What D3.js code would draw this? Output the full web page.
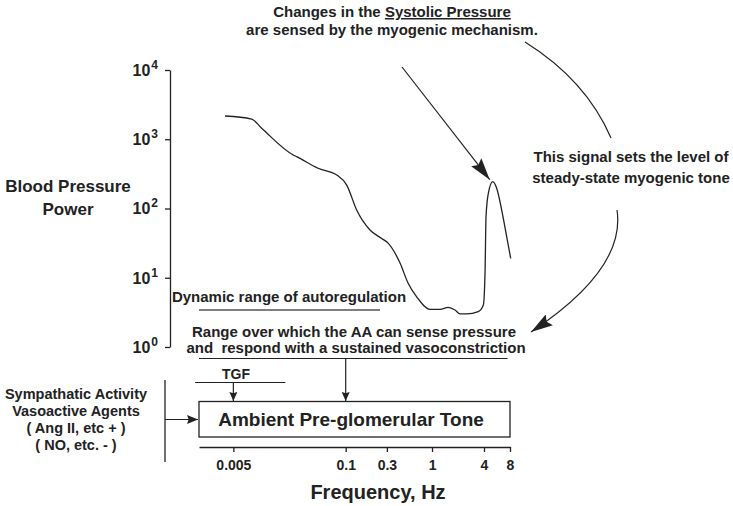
<!DOCTYPE html>
<html>
<head>
<meta charset="utf-8">
<script src="https://cdn.jsdelivr.net/npm/d3@7"></script>
<style>
  html, body { margin: 0; padding: 0; background: #fff; }
  svg { display: block; }
  text { font-family: "Liberation Sans", Arial, Helvetica, sans-serif; font-weight: bold; fill: #222; }
</style>
</head>
<body>
<svg id="chart" width="733" height="506"></svg>
<script>
// ---------------- data ----------------
// Blood pressure power spectrum (frequency in Hz, power)
const freq  = [0.0040, 0.00815, 0.01065, 0.0247, 0.0271, 0.0478, 0.0787, 0.1028, 0.134, 0.191,
               0.261, 0.312, 0.426, 0.527, 0.664, 0.946, 1.236, 1.542, 1.845, 2.108,
               2.52, 3.43, 3.93, 4.11, 4.22, 4.49, 5.05, 5.61, 6.41, 7.33, 8.15];
const power = [2168, 1960, 1440, 593, 560, 381, 305, 218, 95, 49,
               37, 31.4, 16.3, 8.4, 5.3, 3.5, 3.5, 3.74, 3.42, 3.0,
               3.0, 3.24, 4.04, 11.7, 76, 166, 244, 196, 95, 39, 19.1];

const yTicks = [1, 10, 100, 1000, 10000];
const xTicks = [0.005, 0.1, 0.3, 1, 4, 8];
const xTickLabels = ["0.005", "0.1", "0.3", "1", "4", "8"];

// frequency ranges drawn as bars (Hz)
const autoregRange = [0.002, 0.25];
const senseRange   = [0.002, 7.5];
const tgfRange     = [0.0018, 0.02];
const tgfFreq   = 0.005;
const senseFreq = 0.1;

const yLabel = ["Blood Pressure", "Power"];
const xLabel = "Frequency, Hz";
const topNote = ["Changes in the ", "Systolic Pressure", "are sensed by the myogenic mechanism."];
const sideNote = ["This signal sets the level of", "steady-state myogenic tone"];
const autoregLabel = "Dynamic range of autoregulation";
const senseLabel = ["Range over which the AA can sense pressure", "and  respond with a sustained vasoconstriction"];
const tgfLabel = "TGF";
const boxLabel = "Ambient Pre-glomerular Tone";
const leftNote = ["Sympathatic Activity", "Vasoactive Agents", "( Ang II, etc + )", "( NO, etc. - )"];

// ---------------- drawing ----------------
const svg = d3.select("#chart");
const ink = "#222";

const x = d3.scaleLog().domain([0.002, 8]).range([199, 510]);
const y = d3.scaleLog().domain([1, 10000]).range([347, 70]);

const defs = svg.append("defs");
function marker(id, len, wid) {
  defs.append("marker").attr("id", id)
    .attr("markerUnits", "userSpaceOnUse")
    .attr("markerWidth", len).attr("markerHeight", wid)
    .attr("refX", len).attr("refY", wid / 2)
    .attr("orient", "auto")
    .append("path")
    .attr("d", `M0,0 L${len},${wid / 2} L0,${wid} L${len * 0.15},${wid / 2} Z`)
    .attr("fill", ink);
}
marker("big", 22, 13);
marker("small", 9, 8);
marker("mid", 11, 9);

// Y axis
const yAxis = svg.append("g").attr("transform", "translate(170,0)")
  .call(d3.axisLeft(y).tickValues(yTicks).tickSize(5).tickSizeOuter(0).tickFormat(() => ""));
yAxis.select(".domain").attr("stroke", ink).attr("stroke-width", 1.3);
yAxis.selectAll(".tick line").attr("stroke", ink).attr("stroke-width", 1.3);
yAxis.selectAll(".tick text").each(function (d) {
  const t = d3.select(this);
  t.attr("x", -12).attr("dy", "0.34em").attr("font-size", 16).attr("text-anchor", "end")
   .attr("font-family", null);
  t.text("10");
  t.append("tspan").attr("dy", -7).attr("dx", 1).attr("font-size", 12).text(Math.round(Math.log10(d)));
});

// Y label
svg.append("text").attr("x", 68).attr("y", 192).attr("text-anchor", "middle").attr("font-size", 17).text(yLabel[0]);
svg.append("text").attr("x", 68).attr("y", 215).attr("text-anchor", "middle").attr("font-size", 17).text(yLabel[1]);

// spectrum curve
const line = d3.line().x((d, i) => x(freq[i])).y((d, i) => y(power[i])).curve(d3.curveMonotoneX);
svg.append("path").attr("d", line(freq)).attr("fill", "none").attr("stroke", ink).attr("stroke-width", 1.3);

// top note
const tn = svg.append("text").attr("x", 392).attr("y", 17).attr("text-anchor", "middle").attr("font-size", 15);
tn.append("tspan").text(topNote[0]);
tn.append("tspan").attr("text-decoration", "underline").text(topNote[1]);
svg.append("text").attr("x", 392).attr("y", 35).attr("text-anchor", "middle").attr("font-size", 15).text(topNote[2]);

// straight arrow to peak
const peakIdx = 26;
svg.append("line").attr("x1", 402).attr("y1", 67)
  .attr("x2", x(freq[peakIdx]) - 3).attr("y2", y(power[peakIdx]) - 2)
  .attr("stroke", ink).attr("stroke-width", 1.2).attr("marker-end", "url(#big)");

// arcs
svg.append("path").attr("d", "M525,42 Q586,80 611,138").attr("fill", "none").attr("stroke", ink).attr("stroke-width", 1.2);
svg.append("path").attr("d", "M617,210 Q626,269 531,332").attr("fill", "none").attr("stroke", ink).attr("stroke-width", 1.2)
  .attr("marker-end", "url(#big)");

// side note
svg.append("text").attr("x", 631).attr("y", 162).attr("text-anchor", "middle").attr("font-size", 15).text(sideNote[0]);
svg.append("text").attr("x", 631).attr("y", 183).attr("text-anchor", "middle").attr("font-size", 15).text(sideNote[1]);

// dynamic range of autoregulation
svg.append("text").attr("x", 289).attr("y", 302).attr("text-anchor", "middle").attr("font-size", 15).text(autoregLabel);
svg.append("line").attr("x1", x(autoregRange[0])).attr("x2", x(autoregRange[1])).attr("y1", 310).attr("y2", 310)
  .attr("stroke", "#555").attr("stroke-width", 1.3);

// sense range
svg.append("text").attr("x", 354).attr("y", 337).attr("text-anchor", "middle").attr("font-size", 15).text(senseLabel[0]);
svg.append("text").attr("x", 356).attr("y", 353).attr("text-anchor", "middle").attr("font-size", 15)
  .attr("style", "white-space:pre").text(senseLabel[1]);
svg.append("line").attr("x1", x(senseRange[0])).attr("x2", x(senseRange[1])).attr("y1", 358.5).attr("y2", 358.5)
  .attr("stroke", ink).attr("stroke-width", 1.2);
svg.append("line").attr("x1", x(senseFreq)).attr("x2", x(senseFreq)).attr("y1", 358.5).attr("y2", 401)
  .attr("stroke", ink).attr("stroke-width", 1.2).attr("marker-end", "url(#small)");

// TGF
svg.append("text").attr("x", 236).attr("y", 379).attr("text-anchor", "middle").attr("font-size", 14).text(tgfLabel);
svg.append("line").attr("x1", x(tgfRange[0])).attr("x2", x(tgfRange[1])).attr("y1", 382.5).attr("y2", 382.5)
  .attr("stroke", ink).attr("stroke-width", 1.2);
svg.append("line").attr("x1", x(tgfFreq)).attr("x2", x(tgfFreq)).attr("y1", 382.5).attr("y2", 401)
  .attr("stroke", ink).attr("stroke-width", 1.2).attr("marker-end", "url(#small)");

// box
svg.append("rect").attr("x", x(0.002)).attr("y", 401.5).attr("width", x(8) - x(0.002)).attr("height", 35.5)
  .attr("fill", "none").attr("stroke", ink).attr("stroke-width", 1.3);
svg.append("text").attr("x", 351).attr("y", 426).attr("text-anchor", "middle").attr("font-size", 19).text(boxLabel);

// left note
leftNote.forEach((s, i) => {
  svg.append("text").attr("x", 76).attr("y", 399 + i * 17).attr("text-anchor", "middle").attr("font-size", 14.5).text(s);
});
svg.append("line").attr("x1", 165).attr("x2", 165).attr("y1", 380).attr("y2", 462).attr("stroke", ink).attr("stroke-width", 1.3);
svg.append("line").attr("x1", 165).attr("x2", x(0.002) - 1).attr("y1", 419.5).attr("y2", 419.5)
  .attr("stroke", ink).attr("stroke-width", 1.2).attr("marker-end", "url(#mid)");

// X axis
const xAxis = svg.append("g").attr("transform", "translate(0,447)")
  .call(d3.axisBottom(x).tickValues(xTicks).tickSize(5).tickSizeOuter(0).tickFormat((d, i) => xTickLabels[i]));
xAxis.select(".domain").attr("stroke", ink).attr("stroke-width", 1.3);
xAxis.selectAll(".tick line").attr("stroke", ink).attr("stroke-width", 1.3);
xAxis.selectAll(".tick text").attr("y", 23).attr("dy", 0).attr("font-size", 14).attr("font-family", null).attr("fill", ink);

svg.append("text").attr("x", 378).attr("y", 499).attr("text-anchor", "middle").attr("font-size", 20).text(xLabel);
</script>
</body>
</html>
